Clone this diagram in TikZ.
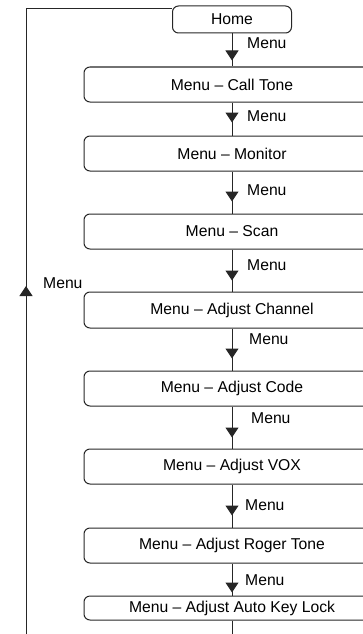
\documentclass[tikz,border=0pt]{standalone}
\usepackage{fontspec}
\setmainfont{Liberation Sans}
\usetikzlibrary{arrows.meta,decorations.markings}

\tikzset{
  menubox/.style={draw=black!85, line width=1pt, rounded corners=6pt,
    minimum width=296pt, minimum height=35pt, inner sep=0pt},
  link/.style={draw=black!85, line width=1pt},
  flow/.style={link, postaction={decorate}, decoration={markings,
    mark=at position #1 with {\arrow{Triangle[width=13pt,length=10pt]}}}},
  menulabel/.style={anchor=west, inner sep=0pt}
}

\begin{document}
\begin{tikzpicture}[x=1pt,y=-1pt,font=\fontsize{15.7}{18}\selectfont]
            \useasboundingbox (0,0) rectangle (363,634);
            \clip (0,0) rectangle (363,634);
            \node[menubox, minimum width=119pt, minimum height=27pt] (home) at (232,19.5) {Home};
            \foreach \name/\y/\h/\txt in {calltone/84.5/35/Call Tone, monitor/153.5/35/Monitor,
                    scan/231.5/35/Scan, channel/310/36/Adjust Channel, code/388.5/35/Adjust Code,
                    vox/466.5/35/Adjust VOX, roger/545.5/35/Adjust Roger Tone, autolock/608/24/Adjust Auto Key Lock}
                \node[menubox, minimum height=\h pt] (\name) at (232,\y) {Menu -- \txt};
            \foreach \a/\b/\d in {home/calltone/27pt, calltone/monitor/20pt, monitor/scan/30pt,
                    scan/channel/31pt, channel/code/30pt, code/vox/31pt, vox/roger/31pt, roger/autolock/29pt}
                \draw[flow=\d] (\a) -- (\b);
            \foreach \x/\y [count=\i] in {247/43, 247/116, 247/190, 247/265, 249/339, 251/418, 245/505, 245/580}
                \node[menulabel] (menu\i) at (\x,\y) {Menu};
            \coordinate (autoexit) at (232,645);
            \draw[link] (autolock) -- (autoexit);
            % way back to Home
            \coordinate (loopstart) at (26,645);
            \coordinate (loopturn) at (26,9);
            \draw[flow=359pt] (loopstart) -- (loopturn) -- (loopturn -| home.west);
            \node[menulabel] (loopmenu) at (43,283) {Menu};
        \end{tikzpicture}
\end{document}
